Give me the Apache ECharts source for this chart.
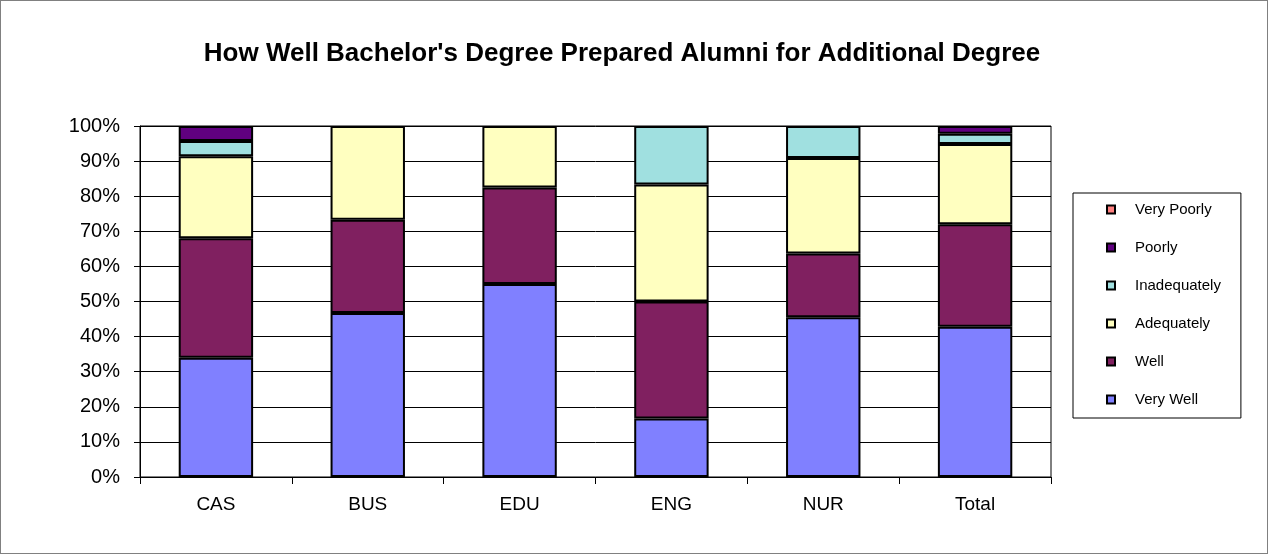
<!DOCTYPE html>
<html>
<head>
<meta charset="utf-8">
<script src="https://cdn.jsdelivr.net/npm/echarts@6/dist/echarts.min.js"></script>
<style>
html, body { margin: 0; padding: 0; background: #fff; }
#chart { width: 1268px; height: 554px; box-sizing: border-box; border: 1px solid #808080; }
</style>
</head>
<body>
<div id="chart"></div>
<script>
// categories and percent shares
var categories = ['CAS', 'BUS', 'EDU', 'ENG', 'NUR', 'Total'];
var veryWell     = [34.0, 46.7, 55.0, 16.7, 45.5, 42.8];
var well         = [34.0, 26.6, 27.5, 33.3, 18.2, 29.2];
var adequately   = [23.4, 26.7, 17.5, 33.3, 27.2, 22.9];
var inadequately = [4.3, 0, 0, 16.7, 9.1, 2.9];
var poorly       = [4.3, 0, 0, 0, 0, 2.2];
var veryPoorly   = [0, 0, 0, 0, 0, 0];
var yTicks = [0, 10, 20, 30, 40, 50, 60, 70, 80, 90, 100];

var colors = {
	'Very Well' : '#8080ff',
	'Well' : '#802060',
	'Adequately' : '#ffffc0',
	'Inadequately' : '#a0e0e0',
	'Poorly' : '#600080',
	'Very Poorly' : '#ff8080'
};

var seriesData = [
	['Very Well', veryWell],
	['Well', well],
	['Adequately', adequately],
	['Inadequately', inadequately],
	['Poorly', poorly],
	['Very Poorly', veryPoorly]
];

var font = 'Liberation Sans, Arial, sans-serif';

var myChart = echarts.init(document.getElementById('chart'));
var option = {
	animation : false,
	title : {
		text : "How Well Bachelor's Degree Prepared Alumni for Additional Degree",
		left : 616,
		textAlign : 'center',
		top : 35,
		textStyle : {
			fontFamily : font,
			fontSize : 26,
			fontWeight : 'bold',
			color : '#000'
		}
	},
	legend : {
		orient : 'vertical',
		left : 1072,
		top : 192,
		padding : [9, 20, 11, 33],
		itemGap : 23,
		itemWidth : 8,
		itemHeight : 8,
		icon : 'rect',
		borderColor : '#000',
		borderWidth : 1,
		data : ['Very Poorly', 'Poorly', 'Inadequately', 'Adequately', 'Well', 'Very Well'],
		textStyle : {
			fontFamily : font,
			fontSize : 15,
			color : '#000',
			padding : [0, 0, 0, 15]
		}
	},
	grid : {
		left : 139,
		right : 216,
		top : 125,
		bottom : 76,
		show : true,
		borderColor : '#000',
		borderWidth : 1
	},
	xAxis : {
		type : 'category',
		data : categories,
		axisLine : { lineStyle : { color : '#000', width : 1 } },
		axisTick : { show : true, alignWithLabel : false, length : 7, lineStyle : { color : '#000' } },
		axisLabel : {
			fontFamily : font,
			fontSize : 19,
			color : '#000',
			margin : 18
		}
	},
	yAxis : {
		type : 'value',
		min : yTicks[0],
		max : yTicks[yTicks.length - 1],
		interval : 10,
		axisLine : { show : true, lineStyle : { color : '#000', width : 1 } },
		axisTick : { show : true, length : 6, lineStyle : { color : '#000' } },
		splitLine : { show : true, lineStyle : { color : '#000', width : 1 } },
		axisLabel : {
			fontFamily : font,
			fontSize : 20,
			color : '#000',
			margin : 20,
			formatter : '{value}%'
		}
	},
	series : seriesData.map(function(item){
		return {
			name : item[0],
			type : 'bar',
			stack : 'total',
			barWidth : '49%',
			// zero-size pieces are skipped so no stray borders show
			data : item[1].map(function(v){ return v === 0 ? '-' : v; }),
			itemStyle : {
				color : colors[item[0]],
				borderColor : '#000',
				borderWidth : 2
			}
		};
	})
};
myChart.setOption(option);
</script>
</body>
</html>
